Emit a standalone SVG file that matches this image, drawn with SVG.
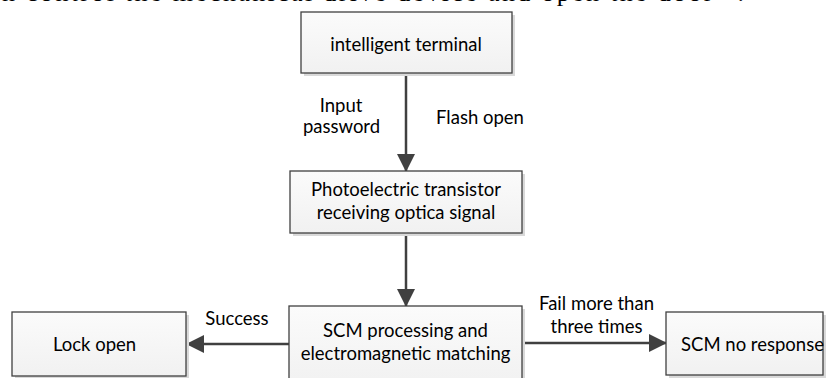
<svg xmlns="http://www.w3.org/2000/svg" width="831" height="378" viewBox="0 0 831 378">
  <style>
    .caption { font-family: "Liberation Serif", "Times New Roman", serif; font-size: 26px; fill: #000; }
    .box { fill: url(#boxFill); stroke: #404040; stroke-width: 1.3; }
    .shadow { fill: #d9d9d9; }
    .label { font-family: Lato, "Liberation Sans", Arial, sans-serif; font-size: 18.5px; fill: #000; text-anchor: middle; }
    .edge { stroke: #404040; stroke-width: 2.5; fill: none; }
  </style>
  <defs>
    <linearGradient id="boxFill" x1="0" y1="0" x2="0" y2="1">
      <stop offset="0" stop-color="#fbfbfb"/>
      <stop offset="1" stop-color="#f1f1f1"/>
    </linearGradient>
    <marker id="arrow" markerUnits="userSpaceOnUse" markerWidth="18" markerHeight="18" viewBox="0 0 18 18" refX="17" refY="9" orient="auto">
      <path d="M0,0 L18,9 L0,18 z" fill="#404040"/>
    </marker>
  </defs>

  <rect width="831" height="378" fill="#fff"/>

  <!-- running text of the page, clipped at the top edge -->
  <text class="caption" x="2" y="0.5" textLength="742" lengthAdjust="spacing">n control the mechanical drive device and open the door” .</text>

  <!-- connectors -->
  <g id="connectors">
    <line class="edge" x1="406" y1="73" x2="406" y2="171" marker-end="url(#arrow)"/>
    <line class="edge" x1="406" y1="233" x2="406" y2="306" marker-end="url(#arrow)"/>
    <line class="edge" x1="289" y1="344" x2="187" y2="344" marker-end="url(#arrow)"/>
    <line class="edge" x1="522" y1="343" x2="666" y2="343" marker-end="url(#arrow)"/>
    <text class="label" x="341" y="112">Input</text>
    <text class="label" x="341.5" y="133">password</text>
    <text class="label" x="480" y="124">Flash open</text>
    <text class="label" x="237" y="325">Success</text>
    <text class="label" x="596.5" y="310">Fail more than</text>
    <text class="label" x="596.5" y="333">three times</text>
  </g>

  <g id="terminal">
    <rect class="shadow" x="304" y="15" width="211" height="61"/>
    <rect class="box" x="301" y="12" width="211" height="61"/>
    <text class="label" x="406" y="51">intelligent terminal</text>
  </g>

  <g id="receiver">
    <rect class="shadow" x="293" y="174" width="232" height="62"/>
    <rect class="box" x="290" y="171" width="232" height="62"/>
    <text class="label" x="406" y="196">Photoelectric transistor</text>
    <text class="label" x="406" y="219">receiving optica signal</text>
  </g>

  <g id="scm">
    <rect class="shadow" x="292" y="309" width="233" height="80"/>
    <rect class="box" x="289" y="306" width="233" height="80"/>
    <text class="label" x="405.5" y="337">SCM processing and</text>
    <text class="label" x="405.5" y="360">electromagnetic matching</text>
  </g>

  <g id="lock-open">
    <rect class="shadow" x="15" y="315" width="174" height="64"/>
    <rect class="box" x="12" y="312" width="174" height="64"/>
    <text class="label" x="94.5" y="351">Lock open</text>
  </g>

  <g id="no-response">
    <rect class="shadow" x="669" y="315" width="157" height="63"/>
    <rect class="box" x="666" y="312" width="157" height="63"/>
    <text class="label" x="752.5" y="351">SCM no response</text>
  </g>
</svg>
